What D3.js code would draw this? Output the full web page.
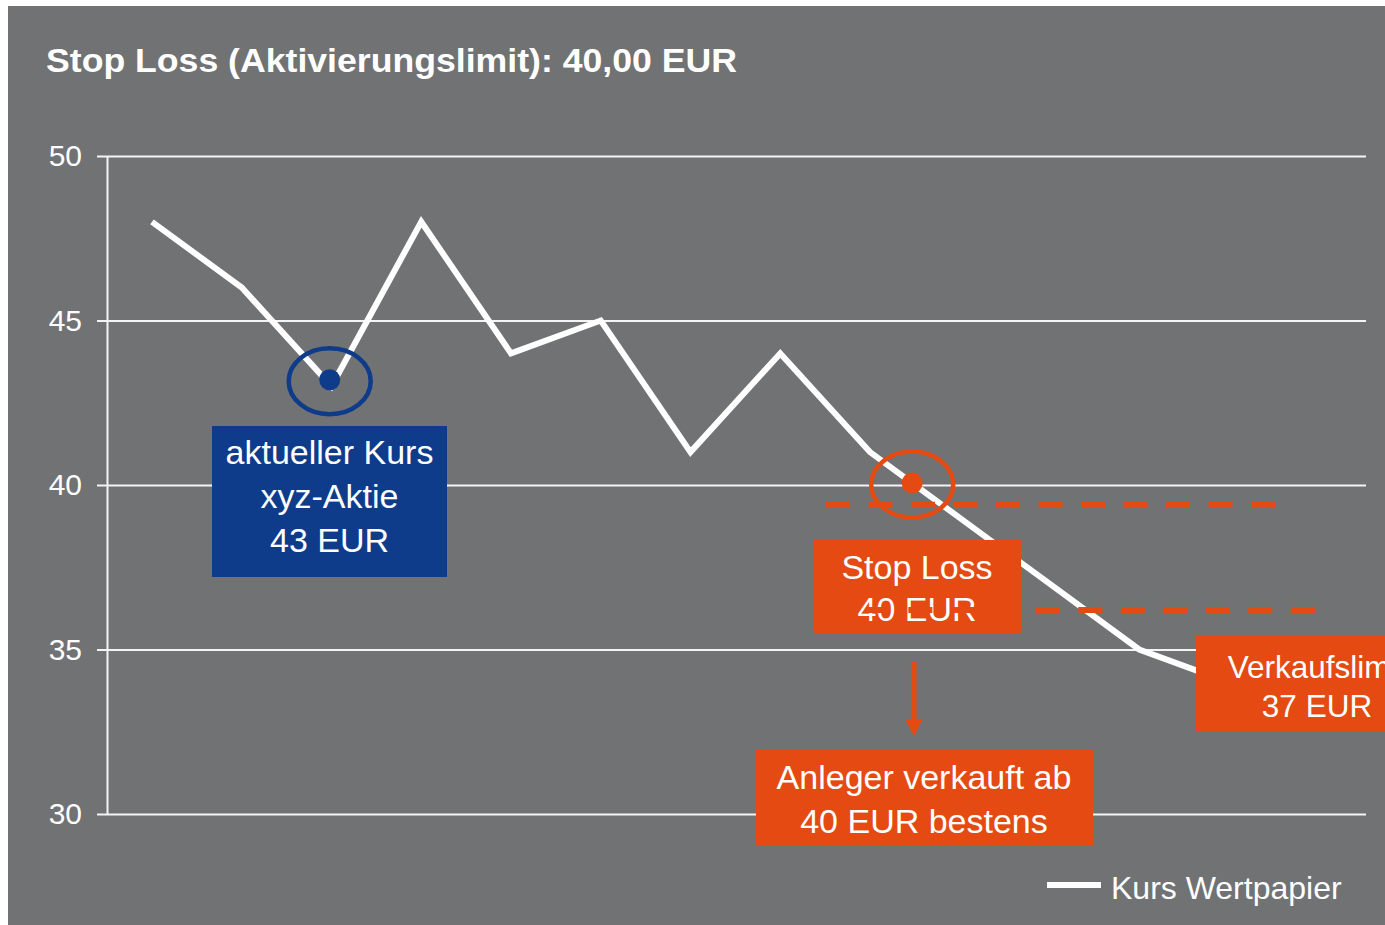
<!DOCTYPE html>
<html>
<head>
<meta charset="utf-8">
<script src="https://cdn.jsdelivr.net/npm/d3@7"></script>
<style>
  html, body { margin: 0; padding: 0; background: #ffffff; }
  svg { display: block; }
  text { font-family: "Liberation Sans", Arial, sans-serif; }
</style>
</head>
<body>
<svg id="chart" width="1385" height="925"></svg>
<script>
// ---- data ----
const periods = [0, 1, 2, 3, 4, 5, 6, 7, 8, 9, 10, 11, 12];
const kurs = [48, 46, 43, 48, 44, 45, 41, 44, 41, 39, 37, 35, 34];
const yTicks = [30, 35, 40, 45, 50];
const titleText = "Stop Loss (Aktivierungslimit): 40,00 EUR";
const seriesName = "Kurs Wertpapier";
// highlighted points: [period position, price]
const markerX = [1.98, 8.47];
const markerY = [43.2, 40.06];
// dashed limit lines: level, start period, end period
const dashLevels = [39.4, 36.2];
const dashStart = [7.51, 7.48];
const dashEnd = [12.53, 12.97];

// ---- setup ----
const W = 1385, H = 925;
const grey = "#717274", blue = "#0f3b8b", orange = "#e44a11";
const svg = d3.select("#chart");

svg.append("rect").attr("x", 8).attr("y", 6).attr("width", W - 8).attr("height", H - 6).attr("fill", grey);

const x = d3.scaleLinear().domain([0, 12]).range([152, 1229]);
const y = d3.scaleLinear().domain([30, 50]).range([814, 156]);

// title
svg.append("text").attr("x", 46).attr("y", 72)
  .attr("font-size", 33).attr("font-weight", "bold").attr("fill", "#fff")
  .attr("textLength", 691).attr("lengthAdjust", "spacingAndGlyphs")
  .text(titleText);

// y axis with gridlines
const yAxis = svg.append("g").attr("transform", `translate(107,0)`)
  .call(d3.axisLeft(y).tickValues(yTicks).tickSize(10).tickSizeOuter(0).tickPadding(15).tickFormat(d3.format("d")));
yAxis.select(".domain").attr("stroke", "#f4f4f4").attr("stroke-width", 2);
yAxis.selectAll(".tick line").attr("stroke", "#f4f4f4").attr("stroke-width", 2)
  .attr("x1", -10).attr("x2", 1366 - 107);
yAxis.selectAll(".tick text").attr("fill", "#fff").attr("font-size", 30)
  .attr("font-family", "Liberation Sans, Arial, sans-serif");

// price line
const line = d3.line().x((d, i) => x(periods[i])).y(d => y(d));
svg.append("path").datum(kurs).attr("d", line)
  .attr("fill", "none").attr("stroke", "#fff").attr("stroke-width", 6).attr("stroke-linejoin", "miter");

// markers
const markerColors = [blue, orange];
markerX.forEach((mx, i) => {
  svg.append("ellipse").attr("cx", x(mx)).attr("cy", y(markerY[i]) + 1.5)
    .attr("rx", 41).attr("ry", 33).attr("fill", "none")
    .attr("stroke", markerColors[i]).attr("stroke-width", 4.5);
  svg.append("circle").attr("cx", x(mx)).attr("cy", y(markerY[i])).attr("r", 10.5)
    .attr("fill", markerColors[i]);
});

// annotation boxes
function box(x0, y0, w, h, color, lines, cx, baselines, fs) {
  svg.append("rect").attr("x", x0).attr("y", y0).attr("width", w).attr("height", h).attr("fill", color);
  lines.forEach((t, i) => {
    svg.append("text").attr("x", cx).attr("y", baselines[i]).attr("text-anchor", "middle")
      .attr("font-size", fs).attr("fill", "#fff").text(t);
  });
}
box(212, 426, 235, 151, blue, ["aktueller Kurs", "xyz-Aktie", "43 EUR"], 329.5, [464, 508, 552], 34);
box(814, 540, 207, 93, orange, ["Stop Loss", "40 EUR"], 917, [579, 621], 34);
box(756, 750, 337, 95, orange, ["Anleger verkauft ab", "40 EUR bestens"], 924, [789, 833], 34);
box(1196, 636, 200, 95, orange, ["Verkaufslimit", "37 EUR"], 1317, [678, 717], 31.5);

// dashed limit lines
dashLevels.forEach((lv, i) => {
  svg.append("line").attr("x1", x(dashStart[i])).attr("x2", x(dashEnd[i]))
    .attr("y1", y(lv)).attr("y2", y(lv))
    .attr("stroke", orange).attr("stroke-width", 6).attr("stroke-dasharray", "24 18.5");
});

// arrow
svg.append("line").attr("x1", 914).attr("x2", 914).attr("y1", 662).attr("y2", 722)
  .attr("stroke", orange).attr("stroke-width", 5);
svg.append("path").attr("d", "M905,719 L923,719 L914,736 Z").attr("fill", orange);

// legend
svg.append("line").attr("x1", 1047).attr("x2", 1101).attr("y1", 885).attr("y2", 885)
  .attr("stroke", "#fff").attr("stroke-width", 6);
svg.append("text").attr("x", 1111).attr("y", 899).attr("font-size", 32).attr("fill", "#fff").text(seriesName);
</script>
</body>
</html>
